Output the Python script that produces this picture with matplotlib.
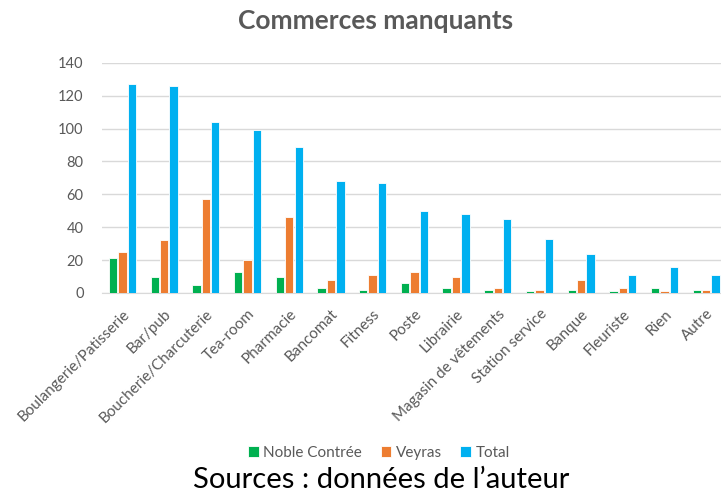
import matplotlib
matplotlib.use("Agg")
import matplotlib.pyplot as plt
import numpy as np

categories = ["Boulangerie/Patisserie", "Bar/pub", "Boucherie/Charcuterie", "Tea-room",
              "Pharmacie", "Bancomat", "Fitness", "Poste", "Librairie",
              "Magasin de vêtements", "Station service", "Banque", "Fleuriste", "Rien", "Autre"]
noble = [21, 10, 5, 13, 10, 3, 2, 6, 3, 2, 1, 2, 1, 3, 2]
veyras = [25, 32, 57, 20, 46, 8, 11, 13, 10, 3, 2, 8, 3, 1, 2]
total = [127, 126, 104, 99, 89, 68, 67, 50, 48, 45, 33, 24, 11, 16, 11]
series_names = ["Noble Contrée", "Veyras", "Total"]
colors = ["#00B050", "#ED7D31", "#00B0F0"]
yticks = [0, 20, 40, 60, 80, 100, 120, 140]

plt.rcParams['font.family'] = ['Lato', 'DejaVu Sans']
grey = "#595959"

fig = plt.figure(figsize=(7.21, 4.92), dpi=100)
W, H = 721, 492
left, right, top, bottom = 101.7, 727, 62.7, 293
ax = fig.add_axes([left / W, (H - bottom) / H, (right - left) / W, (bottom - top) / H])

x = np.arange(len(categories))
pitch = 0.225
bw = 0.2
for i, (vals, name, c) in enumerate(zip([noble, veyras, total], series_names, colors)):
    ax.bar(x + (i - 1) * pitch, vals, width=bw, color=c, label=name,
           edgecolor="white", linewidth=0.6, zorder=3)

ax.set_xlim(-0.5, len(categories) - 0.5)
ax.set_ylim(0, 140)
ax.set_yticks(yticks)
ax.set_yticklabels([str(v) for v in yticks], color=grey, fontsize=10.5)
ax.set_xticks(x)
ax.set_xticklabels(categories, rotation=45, ha="right", rotation_mode="anchor",
                   color=grey, fontsize=11)
ax.tick_params(axis="x", length=0, pad=10)
ax.tick_params(axis="y", length=0, pad=13)
ax.grid(axis="y", color="#D9D9D9", linewidth=1, zorder=0)
for s in ["top", "right", "left"]:
    ax.spines[s].set_visible(False)
ax.spines["bottom"].set_color("#D9D9D9")

fig.text(376 / W, 1 - 21 / H, "Commerces manquants", ha="center", va="center",
         fontsize=19, fontweight="bold", color=grey)

fig.legend(loc="center", bbox_to_anchor=(379 / W, 1 - 453 / H), ncol=3, frameon=False,
           fontsize=11, handlelength=0.7, handleheight=0.7, handletextpad=0.3,
           columnspacing=1.2, labelcolor=grey)

fig.text(381 / W, 1 - 480 / H, "Sources : données de l\u2019auteur", ha="center", va="center",
         fontsize=21, color="black")

fig.savefig("out.png", dpi=100)
